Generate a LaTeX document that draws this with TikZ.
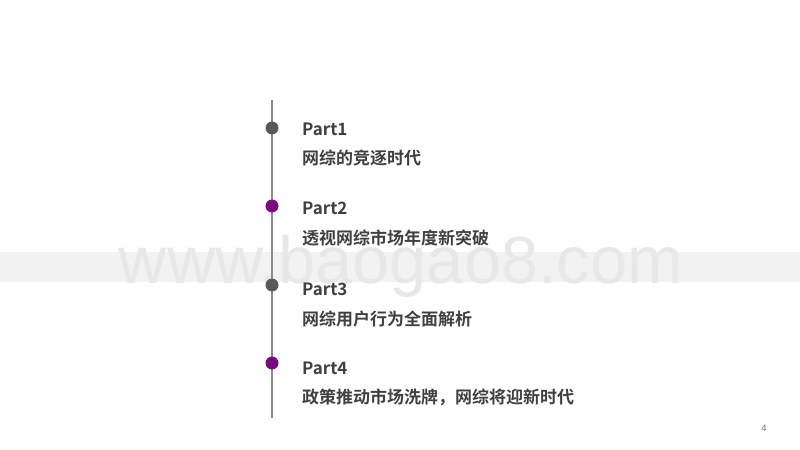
\documentclass[tikz,border=0pt]{standalone}
\usepackage{fontspec}
\newfontfamily\cjk{Noto Sans CJK SC}[BoldFont={Noto Sans CJK SC Bold}]
\newfontfamily\wm{Liberation Sans}
\definecolor{txt}{HTML}{404040}
\definecolor{pur}{HTML}{7B0C7F}
\definecolor{gr}{HTML}{595959}
\begin{document}
\begin{tikzpicture}[x=0.03cm,y=-0.03cm,
  lbl/.style={anchor=west,inner sep=0,font=\cjk\bfseries\fontsize{14.5pt}{16pt}\selectfont,text=txt},
  dot/.style={circle,inner sep=0,minimum size=0.39cm}]
\useasboundingbox (0,0) rectangle (800,450);
\fill[white] (0,0) rectangle (800,450);
\fill[black!5] (0,252) rectangle (800,282);
\node[inner sep=0,font=\wm\fontsize{57pt}{60pt}\selectfont,text=black!9] (wm) at (401,266) {www.baogao8.com};
\coordinate (top) at (272,100);
\coordinate (bot) at (272,418);
\draw[black!45,line width=1.2pt] (top) -- (bot);
\node[dot,fill=gr] (d1) at (272,128) {};
\node[dot,fill=pur] (d2) at (272,206) {};
\node[dot,fill=gr] (d3) at (272,285) {};
\node[dot,fill=pur] (d4) at (272,363) {};
\node[lbl] (p1) at (302,129) {Part1};
\node[lbl] (t1) at (302,158) {网综的竞逐时代};
\node[lbl] (p2) at (302,208) {Part2};
\node[lbl] (t2) at (302,238) {透视网综市场年度新突破};
\node[lbl] (p3) at (302,289) {Part3};
\node[lbl] (t3) at (302,319) {网综用户行为全面解析};
\node[lbl] (p4) at (302,368) {Part4};
\node[lbl] (t4) at (302,397) {政策推动市场洗牌，网综将迎新时代};
\node[font=\wm\fontsize{8pt}{9pt}\selectfont,text=black!55] (pg) at (764,428) {4};
\end{tikzpicture}
\end{document}
